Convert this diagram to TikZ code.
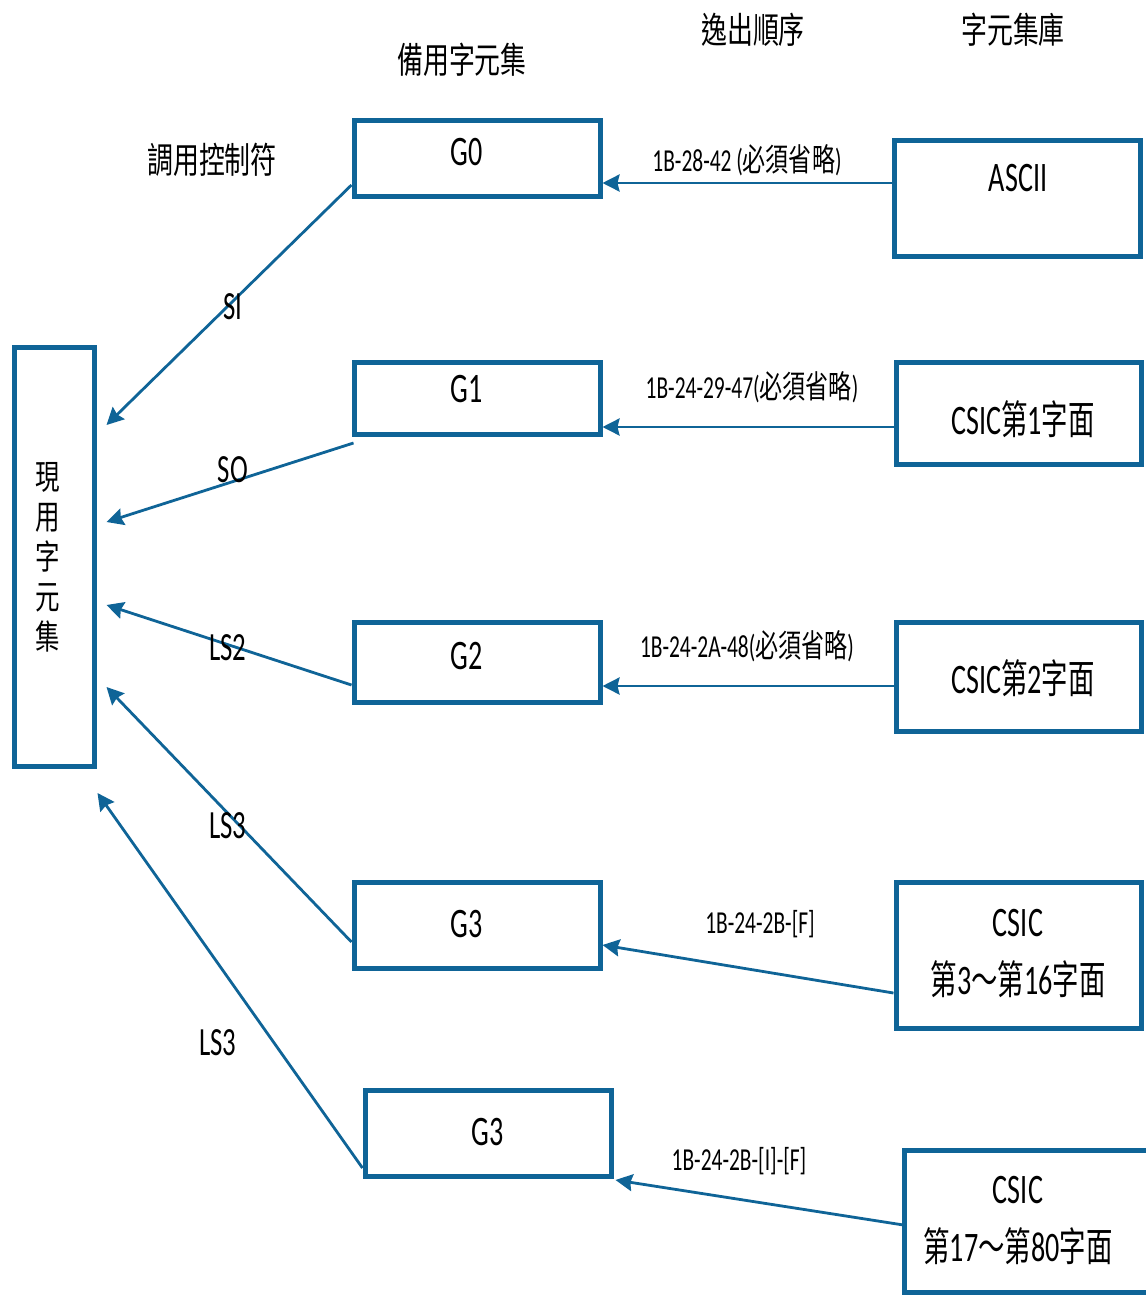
\documentclass[tikz,border=0pt]{standalone}
\usepackage{fontspec}
\setmainfont{Carlito}[FakeStretch=0.67]
\newfontfamily\cjk{Noto Sans CJK TC}[FakeStretch=0.72]
\newfontfamily\cjkn{Noto Sans CJK TC}[FakeStretch=0.66]
\newcommand{\bcj}[1]{{\cjkn\fontsize{40}{58}\selectfont #1}}
\usetikzlibrary{arrows.meta}
\definecolor{bl}{RGB}{15,100,151}
\tikzset{
  box/.style={draw=bl, line width=5pt, inner sep=0pt, fill=none},
  arr/.style={draw=bl, line width=2.8pt, -{Stealth[length=17pt,width=17pt,inset=2pt]}},
  btxt/.style={inner sep=0pt, font=\fontsize{42}{58}\selectfont, align=center},
  lab/.style={inner sep=0pt, font=\fontsize{40}{48}\selectfont},
  esc/.style={inner sep=0pt, font=\fontsize{32}{38}\selectfont},
  hd/.style={inner sep=0pt, font=\cjk\fontsize{36}{42}\selectfont},
}
\begin{document}
\begin{tikzpicture}[x=1pt,y=-1pt]
\useasboundingbox (0,0) rectangle (1146,1296);
% headings
\node[hd] (h1) at (462,60) {備用字元集};
\node[hd] (h2) at (753,30) {逸出順序};
\node[hd] (h3) at (1013,30) {字元集庫};
\node[hd] (h4) at (212,160) {調用控制符};
% current set
\node[box, minimum width=80pt, minimum height=419pt] (cur) at (54,556.5) {};
\node[inner sep=0pt, font=\cjk\fontsize{34}{40}\selectfont, align=center] (curT) at (48,557) {現\\用\\字\\元\\集};
% G boxes
\node[box, minimum width=246pt, minimum height=76pt] (G0) at (477,158) {};
\node[box, minimum width=246pt, minimum height=72pt] (G1) at (477,398) {};
\node[box, minimum width=246pt, minimum height=80pt] (G2) at (477,662) {};
\node[box, minimum width=246pt, minimum height=86pt] (G3a) at (477,925) {};
\node[box, minimum width=246pt, minimum height=86pt] (G3b) at (488,1133) {};
\node[btxt] (G0T) at (467,152) {G0};
\node[btxt] (G1T) at (467,389) {G1};
\node[btxt] (G2T) at (467,656) {G2};
\node[btxt] (G3aT) at (467,924) {G3};
\node[btxt] (G3bT) at (488,1132) {G3};
% character set library
\node[box, minimum width=246pt, minimum height=116pt] (asc) at (1017,198) {};
\node[box, minimum width=245pt, minimum height=102pt] (c1) at (1018.5,413) {};
\node[box, minimum width=245pt, minimum height=109pt] (c2) at (1018.5,676.5) {};
\node[box, minimum width=245pt, minimum height=146pt] (c3) at (1018.5,955) {};
\node[box, minimum width=246pt, minimum height=142pt] (c4) at (1027,1221) {};
\node[btxt] (ascT) at (1018,178) {ASCII};
\node[btxt] (c1T) at (1023,419) {CSIC\bcj{第}1\bcj{字面}};
\node[btxt] (c2T) at (1023,678) {CSIC\bcj{第}2\bcj{字面}};
\node[btxt] (c3T) at (1018,953) {CSIC\\\bcj{第}3\bcj{～第}16\bcj{字面}};
\node[btxt] (c4T) at (1018,1220) {CSIC\\\bcj{第}17\bcj{～第}80\bcj{字面}};
% escape sequence arrows
\draw[arr] ([yshift=15pt]asc.west) coordinate (s0) -- (s0 -| G0.east);
\draw[arr] ([yshift=-14pt]c1.west) coordinate (s1) -- (s1 -| G1.east);
\draw[arr] ([yshift=-9.5pt]c2.west) coordinate (s2) -- (s2 -| G2.east);
\draw[arr] ([yshift=-38pt]c3.west) -- ([yshift=-20pt]G3a.east);
\draw[arr] ([yshift=-4pt,xshift=2pt]c4.west) -- ([yshift=-47pt,xshift=2pt]G3b.east);
\node[esc] (e0) at (747,160) {1B-28-42 ({\cjk 必須省略})};
\node[esc] (e1) at (752,387) {1B-24-29-47({\cjk 必須省略})};
\node[esc] (e2) at (747,646) {1B-24-2A-48({\cjk 必須省略})};
\node[esc] (e3) at (760,924) {1B-24-2B-[F]};
\node[esc] (e4) at (739,1161) {1B-24-2B-[I]-[F]};
% invocation arrows
\draw[arr] ([yshift=-27pt]G0.west) -- ([xshift=10pt,yshift=131.5pt]cur.east);
\draw[arr] ([xshift=2pt,yshift=-45pt]G1.west) -- ([xshift=10pt,yshift=34.5pt]cur.east);
\draw[arr] ([yshift=-23pt]G2.west) -- ([xshift=10pt,yshift=-48.5pt]cur.east);
\draw[arr] ([yshift=-17pt]G3a.west) -- ([xshift=10pt,yshift=-130.5pt]cur.east);
\draw[arr] ([yshift=-35pt]G3b.west) -- ([xshift=1pt,yshift=-236.5pt]cur.east);
\node[lab] (lSI) at (233,307) {SI};
\node[lab] (lSO) at (233,470) {SO};
\node[lab] (lLS2) at (228,648) {LS2};
\node[lab] (lLS3a) at (228,826) {LS3};
\node[lab] (lLS3b) at (218,1043) {LS3};
\end{tikzpicture}
\end{document}
